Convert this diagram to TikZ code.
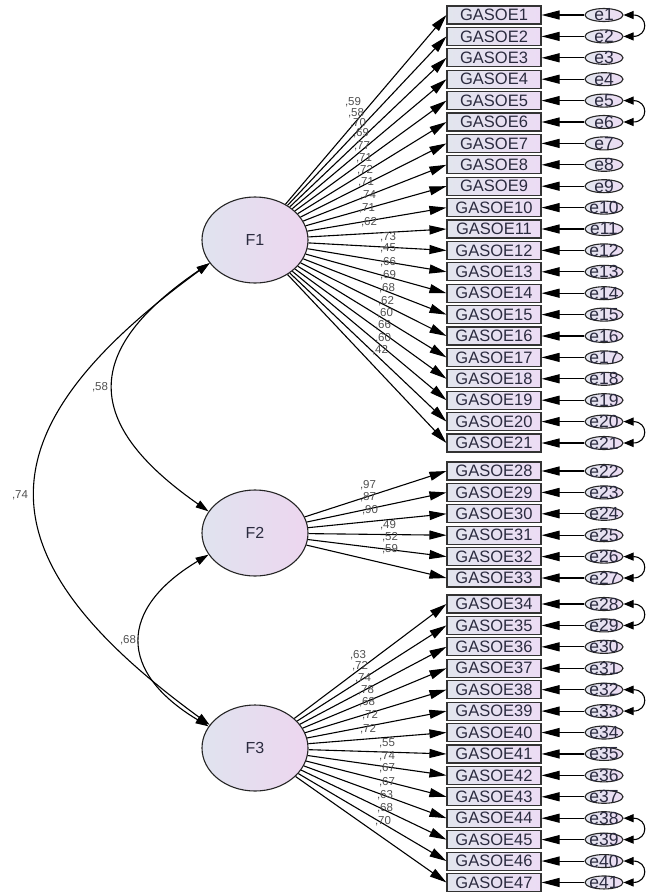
\documentclass[tikz,border=0pt]{standalone}
\usepackage{fontspec}
\setmainfont{Liberation Sans}
\usetikzlibrary{arrows.meta,shapes.geometric}
\definecolor{boxl}{HTML}{E2E5EE}
\definecolor{boxr}{HTML}{ECDCF4}
\definecolor{facl}{HTML}{E0E3EF}
\definecolor{facr}{HTML}{EDD6EF}
\definecolor{labc}{HTML}{505050}
\definecolor{txtc}{HTML}{2B2B3F}
\begin{document}
\begin{tikzpicture}[x=1pt,y=-1pt,
  obs/.style={draw=black!80, line width=1.1pt, rectangle, minimum width=94pt, minimum height=18pt, inner sep=0pt, left color=boxl, right color=boxr, text=txtc, font=\fontsize{16.5}{17}\selectfont},
  err/.style={draw=black!85, line width=1.1pt, ellipse, minimum width=38pt, minimum height=13pt, inner sep=0pt, left color=boxl, right color=boxr},
  errtxt/.style={text=txtc, inner sep=0pt, font=\fontsize{17.5}{17.5}\selectfont},
  fac/.style={draw=black!85, line width=1.1pt, ellipse, minimum width=106pt, minimum height=86pt, inner sep=0pt, left color=facl, right color=facr, text=txtc, font=\fontsize{16}{16}\selectfont},
  lab/.style={text=labc, inner sep=0pt, font=\fontsize{11.5}{11.5}\selectfont},
  load/.style={line width=1.1pt, -{Triangle[length=17pt,width=9pt]}},
  earrow/.style={line width=1.1pt, -{Triangle[length=18pt,width=9pt]}},
  fcov/.style={line width=1.1pt, {Triangle[length=13pt,width=8pt]}-{Triangle[length=13pt,width=8pt]}},
  ecov/.style={line width=1.1pt, {Triangle[length=10pt,width=8pt]}-{Triangle[length=10pt,width=8pt]}}
]
\useasboundingbox[fill=white] (0,0) rectangle (652,895);

% factors
\node[fac] (F1) at (255,240) {F1};
\node[fac] (F2) at (255,533) {F2};
\node[fac] (F3) at (255,748) {F3};

% F1 indicators
\foreach \i in {1,...,21} {
  \pgfmathsetmacro\yy{15+(\i-1)*21.4}
  \node[obs] (b\i) at (494,\yy) {GASOE\i};
  \node[err, label={[errtxt]center:e\i}] (e\i) at (604,\yy) {};
  \draw[earrow] (e\i) -- (b\i);
  \draw[load] (F1) -- (b\i.west);
}
% F2 indicators
\foreach \k in {0,...,5} {
  \pgfmathsetmacro\yy{471+\k*21.4}
  \pgfmathtruncatemacro\bn{28+\k}
  \pgfmathtruncatemacro\en{22+\k}
  \node[obs] (b\bn) at (494,\yy) {GASOE\bn};
  \node[err, label={[errtxt]center:e\en}] (e\en) at (604,\yy) {};
  \draw[earrow] (e\en) -- (b\bn);
  \draw[load] (F2) -- (b\bn.west);
}
% F3 indicators
\foreach \k in {0,...,13} {
  \pgfmathsetmacro\yy{604+\k*21.42}
  \pgfmathtruncatemacro\bn{34+\k}
  \pgfmathtruncatemacro\en{28+\k}
  \node[obs] (b\bn) at (494,\yy) {GASOE\bn};
  \node[err, label={[errtxt]center:e\en}] (e\en) at (604,\yy) {};
  \draw[earrow] (e\en) -- (b\bn);
  \draw[load] (F3) -- (b\bn.west);
}

% error covariances
\foreach \a/\b in {1/2,5/6,20/21,26/27,28/29,32/33,38/39,40/41} {
  \draw[ecov] (e\a.east) to[out=0,in=0,looseness=3] (e\b.east);
}

% factor covariances
\draw[fcov] (F1.207) .. controls (82,350) and (82,423) .. (F2.155);
\draw[fcov] (F1.207) .. controls (-22,432) and (-22,556) .. (F3.153);
\draw[fcov] (F2.205) .. controls (118,609) and (118,672) .. (F3.155);
\node[lab] (c58) at (100,387) {,58};
\node[lab] (c74) at (20,495) {,74};
\node[lab] (c68) at (128,640) {,68};

% loading labels
\foreach \x/\y/\v [count=\n] in {353/102/59,356/113/58,358/123/70,361/133/69,362/146/77,364/158/71,365/170/72,366/182/71,368/195/74,367/208/71,369/222/62,388/237/73,388/248/45,388/262/66,388/275/69,387/288/68,386/301/62,385/313/60,383/325/66,383/338/60,380/350/42,
  368/485/97,368/497/87,370/510/90,388/525/49,390/537/52,390/549/59,
  358/655/63,360/666/72,363/678/74,366/690/78,367/702/68,370/715/72,368/729/72,387/743/55,387/756/74,387/768/67,387/782/67,385/795/63,385/808/68,383/821/70} {
  \node[lab] (L\n) at (\x,\y) {,\v};
}
\end{tikzpicture}
\end{document}
